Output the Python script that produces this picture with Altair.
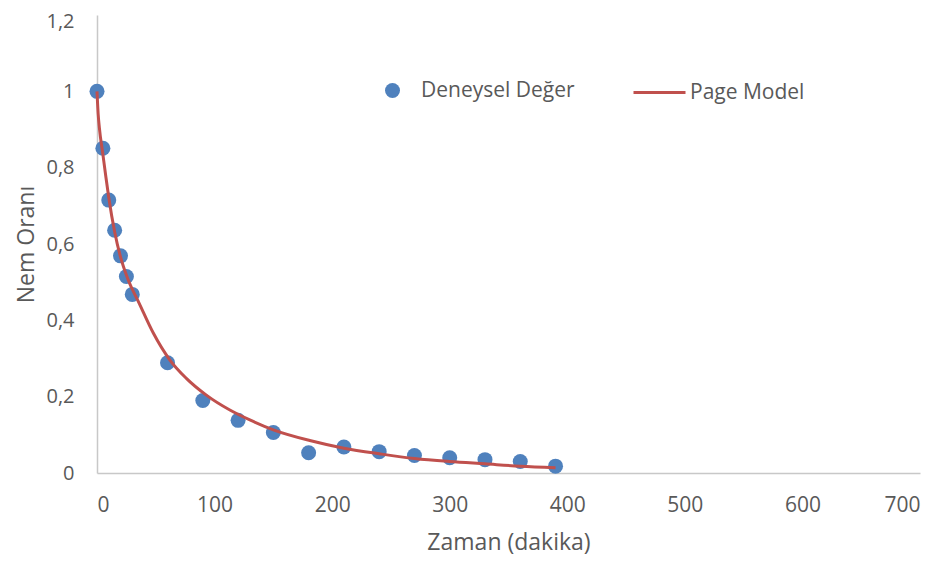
import altair as alt
import pandas as pd

# Experimental points (Deneysel Değer)
t_exp = [0, 5, 10, 15, 20, 25, 30, 60, 90, 120, 150, 180, 210, 240, 270, 300, 330, 360, 390]
mr_exp = [1.0, 0.851, 0.715, 0.636, 0.569, 0.515, 0.468, 0.289, 0.190, 0.138, 0.106, 0.053,
          0.068, 0.056, 0.046, 0.040, 0.035, 0.030, 0.018]

# Page model curve
t_mod = [0, 1, 2, 5, 7.5, 10, 15, 20, 26, 36, 48, 62, 76, 93, 113, 130, 150, 181, 210, 241,
         270, 300, 330, 360, 390]
mr_mod = [1.0, 0.94, 0.905, 0.835, 0.777, 0.722, 0.632, 0.566, 0.51, 0.444, 0.366, 0.296, 0.248,
          0.204, 0.165, 0.139, 0.113, 0.085, 0.065, 0.050, 0.038, 0.030, 0.024, 0.018, 0.014]

x_ticks = [0, 100, 200, 300, 400, 500, 600, 700]
y_ticks = [0, 0.2, 0.4, 0.6, 0.8, 1.0, 1.2]

FONT = "Open Sans"
TXT = "#595959"
FS = 21
FS_T = 23

df_exp = pd.DataFrame({"t": t_exp, "mr": mr_exp, "series": "Deneysel Değer"})
df_mod = pd.DataFrame({"t": t_mod, "mr": mr_mod, "series": "Page Model"})

x_enc = alt.X("t:Q", scale=alt.Scale(domain=[0, 700], nice=False),
              axis=alt.Axis(values=x_ticks, title="Zaman (dakika)", grid=False, ticks=False,
                            labelPadding=21, titlePadding=16))
y_enc = alt.Y("mr:Q", scale=alt.Scale(domain=[0, 1.2], nice=False),
              axis=alt.Axis(values=y_ticks, title="Nem Oranı", grid=False, ticks=False,
                            labelPadding=23, titlePadding=7, labelFontSize=20,
                            labelOffset={"condition": {"test": "datum.value > 1.1", "value": 6},
                                         "value": 0},
                            labelExpr="replace(format(datum.value, '.1~f'), '.', ',')"))

points = alt.Chart(df_exp).mark_circle(size=225, opacity=1).encode(
    x=x_enc, y=y_enc,
    fill=alt.Fill("series:N",
                  scale=alt.Scale(domain=["Deneysel Değer"], range=["#4f81bd"]),
                  legend=alt.Legend(title=None, orient="none", legendX=285, legendY=65,
                                    padding=0, symbolType="circle", symbolSize=225,
                                    labelOffset=18, labelFont=FONT, labelFontSize=FS,
                                    labelColor=TXT)),
)

line = alt.Chart(df_mod).mark_line(strokeWidth=3, interpolate="monotone").encode(
    x=x_enc, y=y_enc,
    stroke=alt.Stroke("series:N",
                      scale=alt.Scale(domain=["Page Model"], range=["#c0504d"]),
                      legend=alt.Legend(title=None, orient="none", legendX=535, legendY=50,
                                        padding=0, symbolType="stroke", symbolSize=2704,
                                        symbolStrokeWidth=3, labelOffset=3,
                                        labelFont=FONT, labelFontSize=FS, labelColor=TXT)),
)

chart = alt.layer(points, line).resolve_legend(fill="independent", stroke="independent").properties(
    width=823, height=458,
    autosize=alt.AutoSizeParams(type="none"),
    padding={"left": 89, "top": 7, "right": 16, "bottom": 82},
).configure_view(stroke=None).configure_axis(
    domainColor="#c8c8c8", domainWidth=1.5,
    labelFont=FONT, labelFontSize=FS, labelColor=TXT,
    titleFont=FONT, titleFontSize=FS_T, titleColor=TXT, titleFontWeight="normal",
)

chart.save("out.html", embed_options={"renderer": "svg", "actions": False})
